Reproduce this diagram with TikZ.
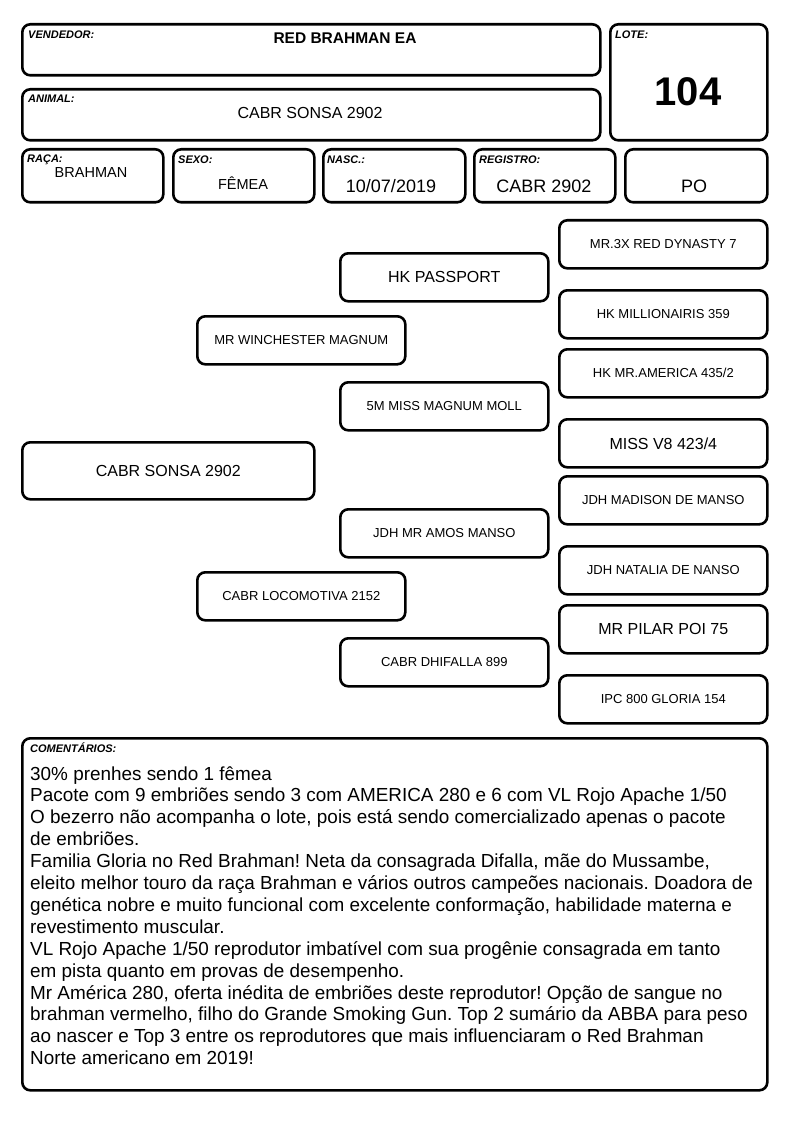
\documentclass[tikz,border=0pt]{standalone}
\usepackage{fontspec}
\setmainfont{Liberation Sans}
\newcommand{\fs}[1]{\fontsize{#1}{#1}\selectfont}
\frenchspacing
\begin{document}
\begin{tikzpicture}[x=1pt,y=-1pt,
  box/.style={draw, line width=2.6pt, rounded corners=8pt, inner sep=0pt, anchor=north west},
  bx/.style 2 args={box, minimum width=#1pt, minimum height=#2pt},
  lbl/.style={font=\fs{11}\bfseries\itshape, anchor=base west, inner sep=0pt},
  val/.style={anchor=base, inner sep=0pt},
  ped/.style={box, minimum width=208pt, minimum height=48pt, font=\fs{13}},
  com/.style={anchor=base west, inner sep=0pt, font=\fs{18.9}}]
\useasboundingbox (0,0) rectangle (794,1123);
% header boxes
\node[bx={578}{51}] (vend) at (21,23) {};
\node[lbl] (vendl) at (28,39) {VENDEDOR:};
\node[val, font=\fs{15.5}\bfseries] (vendv) at (345,43.5) {RED BRAHMAN EA};
\node[bx={157}{116}] (lote) at (609,23) {};
\node[lbl] (lotel) at (615,39) {LOTE:};
\node[val, font=\fs{40}\bfseries] (lotev) at (688,106) {104};
\node[bx={578}{51}] (anim) at (21,88) {};
\node[lbl] (animl) at (28,103) {ANIMAL:};
\node[val, font=\fs{16}] (animv) at (310,119) {CABR SONSA 2902};
% row
\node[bx={141}{53}] (raca) at (21,148) {};
\node[lbl] (racal) at (27,163) {RAÇA:};
\node[val, font=\fs{14.5}] (racav) at (91,178) {BRAHMAN};
\node[bx={141}{53}] (sexo) at (172,148) {};
\node[lbl] (sexol) at (178,164) {SEXO:};
\node[val, font=\fs{14.5}] (sexov) at (243,190) {FÊMEA};
\node[bx={142}{53}] (nasc) at (322,148) {};
\node[lbl] (nascl) at (327,164) {NASC.:};
\node[val, font=\fs{18}] (nascv) at (391,193) {10/07/2019};
\node[bx={141}{53}] (reg) at (473,148) {};
\node[lbl] (regl) at (479,164) {REGISTRO:};
\node[val, font=\fs{18}] (regv) at (544,193) {CABR 2902};
\node[bx={142}{53}] (po) at (624,148) {};
\node[val, font=\fs{18}] (pov) at (694,193) {PO};
% pedigree
\node[ped] (p1) at (558,219) {MR.3X RED DYNASTY 7};
\node[ped, font=\fs{16}] (f1) at (339,252) {HK PASSPORT};
\node[ped] (p2) at (558,289) {HK MILLIONAIRIS 359};
\node[ped] (s1) at (196,315) {MR WINCHESTER MAGNUM};
\node[ped] (p3) at (558,348) {HK MR.AMERICA 435/2};
\node[ped] (f2) at (339,381) {5M MISS MAGNUM MOLL};
\node[ped, font=\fs{16}] (p4) at (558,418) {MISS V8 423/4};
\node[box, minimum width=292pt, minimum height=57pt, font=\fs{16}] (main) at (21,441) {CABR SONSA 2902};
\node[ped] (p5) at (558,475) {JDH MADISON DE MANSO};
\node[ped] (f3) at (339,508) {JDH MR AMOS MANSO};
\node[ped] (p6) at (558,545) {JDH NATALIA DE NANSO};
\node[ped] (d1) at (196,571) {CABR LOCOMOTIVA 2152};
\node[ped, font=\fs{16}] (p7) at (558,604) {MR PILAR POI 75};
\node[ped] (f4) at (339,637) {CABR DHIFALLA 899};
\node[ped] (p8) at (558,674) {IPC 800 GLORIA 154};
% comments
\node[bx={745}{352}] (coment) at (21,737) {};
\node[lbl] (comentl) at (30,752) {COMENTÁRIOS:};
\node[com] (c1) at (30,780) {30\% prenhes sendo 1 fêmea};
\node[com] (c2) at (30,801.9) {Pacote com 9 embriões sendo 3 com AMERICA 280 e 6 com VL Rojo Apache 1/50};
\node[com] (c3) at (30,823.8) {O bezerro não acompanha o lote, pois está sendo comercializado apenas o pacote};
\node[com] (c4) at (30,845.7) {de embriões.};
\node[com] (c5) at (30,867.6) {Familia Gloria no Red Brahman! Neta da consagrada Difalla, mãe do Mussambe,};
\node[com] (c6) at (30,889.5) {eleito melhor touro da raça Brahman e vários outros campeões nacionais. Doadora de};
\node[com] (c7) at (30,911.4) {genética nobre e muito funcional com excelente conformação, habilidade materna e};
\node[com] (c8) at (30,933.3) {revestimento muscular.};
\node[com] (c9) at (30,955.2) {VL Rojo Apache 1/50 reprodutor imbatível com sua progênie consagrada em tanto};
\node[com] (c10) at (30,977.1) {em pista quanto em provas de desempenho.};
\node[com] (c11) at (30,999) {Mr América 280, oferta inédita de embriões deste reprodutor! Opção de sangue no};
\node[com] (c12) at (30,1020.9) {brahman vermelho, filho do Grande Smoking Gun. Top 2 sumário da ABBA para peso};
\node[com] (c13) at (30,1042.8) {ao nascer e Top 3 entre os reprodutores que mais influenciaram o Red Brahman};
\node[com] (c14) at (30,1064.7) {Norte americano em 2019!};
\end{tikzpicture}
\end{document}
